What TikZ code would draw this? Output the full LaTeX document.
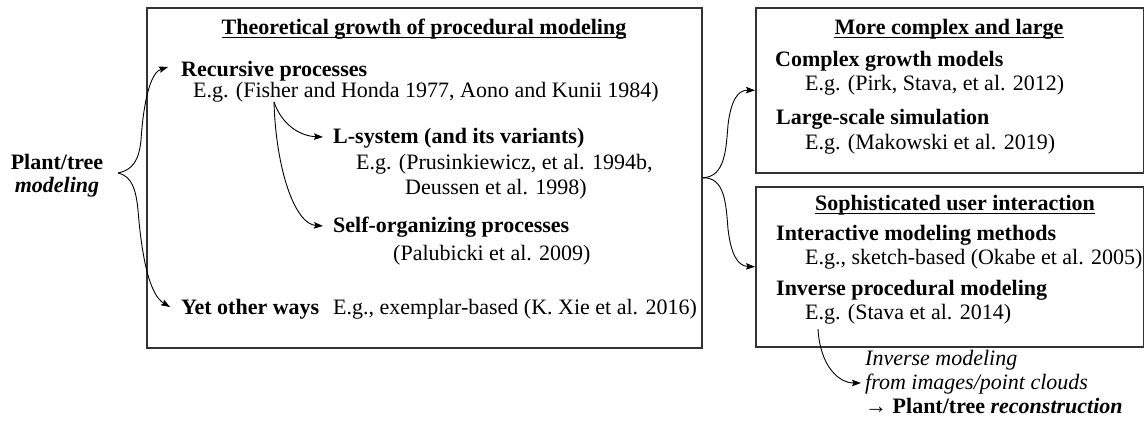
\documentclass[tikz,border=0pt]{standalone}
\usepackage{fontspec}
\setmainfont{Liberation Serif}
\usetikzlibrary{arrows.meta,calc}
\begin{document}
\begin{tikzpicture}[x=1pt,y=-1pt,
  base/.style={inner sep=0pt, anchor=base west},
  reg/.style={base, font=\fontsize{22}{26}\selectfont},
  bld/.style={base, font=\fontsize{22}{26}\selectfont\bfseries},
  ttl/.style={bld, anchor=base},
  itl/.style={base, font=\fontsize{22}{26}\selectfont\itshape},
  box/.style={draw=black!80, line width=1.6pt, inner sep=0pt, anchor=north west},
  arr/.style={-{Stealth[length=9pt,width=6.5pt,inset=1.5pt]}, line width=0.9pt},
  ul/.style={line width=1.1pt}
]
\useasboundingbox (0,0) rectangle (1144,427);

% boxes
\node[box, minimum width=555pt, minimum height=340pt] (b1) at (146,7) {};
\node[box, minimum width=388pt, minimum height=165pt] (b2) at (755,7) {};
\node[box, minimum width=388pt, minimum height=160pt] (b3) at (755,186) {};

% left label
\node[inner sep=0pt, align=center, font=\fontsize{22}{23}\selectfont\bfseries] (pm) at (57,176) {Plant/tree\\\itshape modeling};
\coordinate (lb) at (118,173);

% left box texts
\node[ttl] (t1) at (424,35) {Theoretical growth of procedural modeling};
\draw[ul] ([yshift=-2.5pt]t1.base west) -- ([yshift=-2.5pt]t1.base east);
\node[bld] (rp) at (181,77) {Recursive processes};
\node[reg] (rpe) at (193,98) {E.g. (Fisher and Honda 1977, Aono and Kunii 1984)};
\node[bld] (ls) at (333,144) {L-system (and its variants)};
\node[reg] (lse) at (356,170) {E.g. (Prusinkiewicz, et al. 1994b,};
\node[reg] (lse2) at (405,195) {Deussen et al. 1998)};
\node[bld] (so) at (333,233) {Self-organizing processes};
\node[reg] (soe) at (393,261) {(Palubicki et al. 2009)};
\node[bld] (yo) at (181,315) {Yet other ways};
\node[reg] (yoe) at (333,315) {E.g., exemplar-based (K. Xie et al. 2016)};
\coordinate (fs) at (274,102);

% right top box
\node[ttl] (t2) at (949,35) {More complex and large};
\draw[ul] ([yshift=-2.5pt]t2.base west) -- ([yshift=-2.5pt]t2.base east);
\node[bld] (cg) at (775,67) {Complex growth models};
\node[reg] (cge) at (805,91) {E.g. (Pirk, Stava, et al. 2012)};
\node[bld] (lg) at (776,125) {Large-scale simulation};
\node[reg] (lge) at (805,150) {E.g. (Makowski et al. 2019)};

% right bottom box
\node[ttl] (t3) at (955,211) {Sophisticated user interaction};
\draw[ul] ([yshift=-2.5pt]t3.base west) -- ([yshift=-2.5pt]t3.base east);
\node[bld] (im) at (776,241) {Interactive modeling methods};
\node[reg] (ime) at (805,265) {E.g., sketch-based (Okabe et al. 2005)};
\node[bld] (ip) at (776,296) {Inverse procedural modeling};
\node[reg] (ipe) at (805,320) {E.g. (Stava et al. 2014)};
\coordinate (st) at (818,329);

% bottom right text
\node[itl] (iv) at (865,366) {Inverse modeling};
\node[itl] (fi) at (865,390) {from images/point clouds};
\node[reg] (pr) at (865,414) {→ \textbf{Plant/tree \itshape reconstruction}};

% left brace arrows
\draw[arr] (lb) .. controls (133,170) and (139,160) .. (141,140)
  .. controls (144,95) and (152,72) .. ([xshift=-13pt,yshift=10pt]rp.base west);
\draw[arr] (lb) .. controls (132,176) and (136,190) .. (138,210)
  .. controls (142,260) and (150,295) .. ([xshift=-11pt,yshift=8pt]yo.base west);

% inner arrows
\draw[arr] (fs) .. controls (282,125) and (300,136) .. ([xshift=-10pt,yshift=7pt]ls.base west);
\draw[arr] (fs) .. controls (276,170) and (295,224) .. ([xshift=-10pt,yshift=7pt]so.base west);

% right brace arrows
\draw[arr] (b1.east) .. controls (725,177) and (726,150) .. (728,125)
  .. controls (731,100) and (738,90) .. (b2.west);
\draw[arr] (b1.east) .. controls (725,177) and (726,204) .. (728,229)
  .. controls (731,255) and (738,266) .. (b3.west);

% bottom arrow
\draw[arr] (st) .. controls (820,365) and (838,383) .. ([xshift=-4pt,yshift=7pt]fi.base west);
\end{tikzpicture}
\end{document}
